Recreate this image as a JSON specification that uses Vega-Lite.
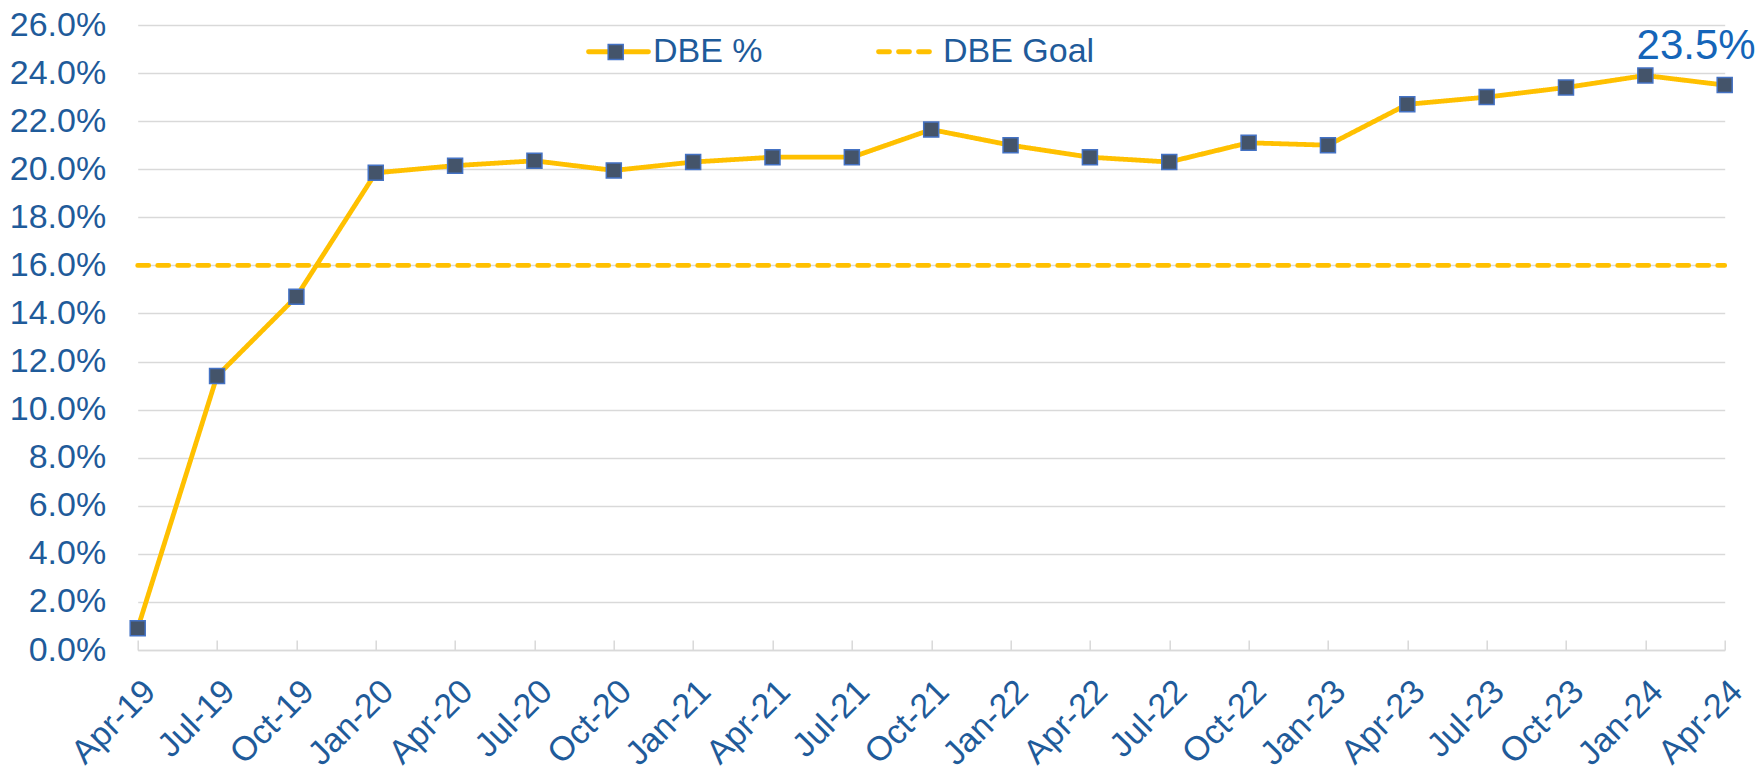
{
  "$schema": "https://vega.github.io/schema/vega-lite/v6.json",
  "width": 1587,
  "height": 625,
  "autosize": {"type": "none"},
  "padding": {"left": 137.7, "top": 25, "right": 39.3, "bottom": 127},
  "background": "white",
  "config": {"view": {"stroke": null}, "font": "Liberation Sans"},
  "data": {
    "values": [
      {"q": "Apr-19", "series": "DBE %", "v": 0.009},
      {"q": "Jul-19", "series": "DBE %", "v": 0.114},
      {"q": "Oct-19", "series": "DBE %", "v": 0.147},
      {"q": "Jan-20", "series": "DBE %", "v": 0.1985},
      {"q": "Apr-20", "series": "DBE %", "v": 0.2015},
      {"q": "Jul-20", "series": "DBE %", "v": 0.2035},
      {"q": "Oct-20", "series": "DBE %", "v": 0.1995},
      {"q": "Jan-21", "series": "DBE %", "v": 0.203},
      {"q": "Apr-21", "series": "DBE %", "v": 0.205},
      {"q": "Jul-21", "series": "DBE %", "v": 0.205},
      {"q": "Oct-21", "series": "DBE %", "v": 0.2165},
      {"q": "Jan-22", "series": "DBE %", "v": 0.21},
      {"q": "Apr-22", "series": "DBE %", "v": 0.205},
      {"q": "Jul-22", "series": "DBE %", "v": 0.203},
      {"q": "Oct-22", "series": "DBE %", "v": 0.211},
      {"q": "Jan-23", "series": "DBE %", "v": 0.21},
      {"q": "Apr-23", "series": "DBE %", "v": 0.227},
      {"q": "Jul-23", "series": "DBE %", "v": 0.23},
      {"q": "Oct-23", "series": "DBE %", "v": 0.234},
      {"q": "Jan-24", "series": "DBE %", "v": 0.239},
      {"q": "Apr-24", "series": "DBE %", "v": 0.235},
      {"q": "Apr-19", "series": "DBE Goal", "v": 0.16},
      {"q": "Apr-24", "series": "DBE Goal", "v": 0.16}
    ]
  },
  "encoding": {
    "x": {
      "field": "q",
      "type": "ordinal",
      "sort": ["Apr-19","Jul-19","Oct-19","Jan-20","Apr-20","Jul-20","Oct-20","Jan-21","Apr-21","Jul-21","Oct-21","Jan-22","Apr-22","Jul-22","Oct-22","Jan-23","Apr-23","Jul-23","Oct-23","Jan-24","Apr-24"],
      "scale": {"type": "point", "padding": 0},
      "title": null,
      "axis": {
        "labelAngle": -45,
        "labelAlign": "right",
        "labelBaseline": "middle",
        "labelFontSize": 34,
        "labelFont": "Liberation Sans",
        "labelColor": "#1F5B9A",
        "labelPadding": 46,
        "labelOffset": 12,
        "labelOverlap": false,
        "labelBound": false,
        "labelFlush": false,
        "domainColor": "#D9D9D9",
        "domainWidth": 1.5,
        "tickColor": "#D9D9D9",
        "tickWidth": 1.5,
        "tickSize": -10,
        "grid": false
      }
    },
    "y": {
      "field": "v",
      "type": "quantitative",
      "scale": {"domain": [0, 0.26], "nice": false},
      "title": null,
      "axis": {
        "values": [0, 0.02, 0.04, 0.06, 0.08, 0.1, 0.12, 0.14, 0.16, 0.18, 0.2, 0.22, 0.24, 0.26],
        "format": ".1%",
        "labelFontSize": 34,
        "labelFont": "Liberation Sans",
        "labelColor": "#1F5B9A",
        "labelPadding": 32,
        "domain": false,
        "ticks": false,
        "grid": true,
        "gridColor": "#D9D9D9",
        "gridWidth": 1.5
      }
    }
  },
  "layer": [
    {
      "mark": {"type": "line", "color": "#FFC000", "strokeWidth": 4.8, "strokeCap": "round"},
      "encoding": {
        "strokeDash": {
          "field": "series",
          "type": "nominal",
          "scale": {"domain": ["DBE %", "DBE Goal"], "range": [[1, 0], [11, 9]]},
          "legend": {
            "title": null,
            "orient": "none",
            "direction": "horizontal",
            "legendX": 448.3,
            "legendY": -6,
            "padding": 0,
            "symbolType": "stroke",
            "symbolSize": 3600,
            "symbolStrokeWidth": 4.8,
            "symbolStrokeColor": "#FFC000",
            "labelFontSize": 34,
            "labelFont": "Liberation Sans",
            "labelColor": "#1F5B9A",
            "labelOffset": 2,
            "columnPadding": 105,
            "encode": {
              "symbols": {"update": {"stroke": {"value": "#FFC000"}, "strokeWidth": {"value": 4.8}, "strokeCap": {"value": "round"}}}
            }
          }
        }
      }
    },
    {
      "transform": [{"filter": "datum.series === 'DBE %'"}],
      "mark": {"type": "point", "filled": true, "fill": "#44546A", "stroke": "#4472C4", "strokeWidth": 1.5, "size": 225, "opacity": 1},
      "encoding": {
        "shape": {
          "datum": "DBE %",
          "scale": {"range": ["square"]},
          "legend": {
            "title": null,
            "orient": "none",
            "legendX": 461,
            "legendY": 10,
            "padding": 0,
            "symbolSize": 225,
            "labelFontSize": 34,
            "labelExpr": "''",
            "labelOpacity": 0,
            "encode": {
              "symbols": {"update": {"fill": {"value": "#44546A"}, "stroke": {"value": "#4472C4"}, "strokeWidth": {"value": 1.5}, "opacity": {"value": 1}, "fillOpacity": {"value": 1}}}
            }
          }
        }
      }
    },
    {
      "transform": [{"filter": "datum.series === 'DBE %' && datum.q === 'Apr-24'"}],
      "mark": {"type": "text", "align": "right", "baseline": "alphabetic", "dx": 31, "dy": -26, "fontSize": 42, "font": "Liberation Sans", "color": "#1565B8"},
      "encoding": {"text": {"field": "v", "format": ".1%"}}
    }
  ]
}
